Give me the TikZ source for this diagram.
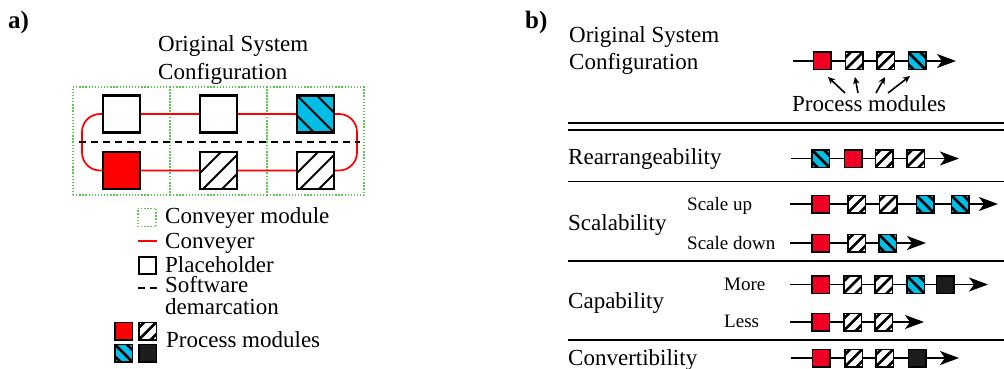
\documentclass[tikz,border=0pt]{standalone}
\usepackage{fontspec}
\setmainfont{Liberation Serif}
\usetikzlibrary{arrows.meta}
\definecolor{cred}{RGB}{255,0,0}
\definecolor{credb}{RGB}{240,0,35}
\definecolor{cblue}{RGB}{0,190,230}
\definecolor{cblk}{RGB}{28,28,26}
\definecolor{cgreen}{RGB}{90,200,80}
\tikzset{
  txt/.style={font=\fontsize{23}{26}\selectfont, inner sep=0pt, anchor=base west},
  stxt/.style={font=\fontsize{19}{22}\selectfont, inner sep=0pt, anchor=base west},
  lbl/.style={font=\fontsize{25}{27}\selectfont\bfseries, inner sep=0pt, anchor=base west},
  sq/.style={draw=black, line width=1.5pt, minimum size=17.5pt, inner sep=0pt, outer sep=0pt, fill=white},
  bsq/.style={draw=black, line width=2.2pt, minimum size=37pt, inner sep=0pt, outer sep=0pt, fill=white},
  stripesNE/.style n args={2}{path picture={\foreach \d in {#1}{\draw[line width=#2]
      ([shift={({\d/2-40},{\d/2+40})}]path picture bounding box.center) --
      ([shift={({\d/2+40},{\d/2-40})}]path picture bounding box.center);}}},
  stripesNW/.style n args={2}{path picture={\foreach \d in {#1}{\draw[line width=#2]
      ([shift={({\d/2-40},{-\d/2-40})}]path picture bounding box.center) --
      ([shift={({\d/2+40},{-\d/2+40})}]path picture bounding box.center);}}},
  rmod/.style={sq, fill=credb},
  hmod/.style={sq, stripesNE={-12,0,12}{2.8pt}},
  cmod/.style={sq, fill=cblue, stripesNW={-12,0,12}{2.8pt}},
  kmod/.style={sq, fill=cblk},
  cell/.style={draw=cgreen, line width=1.3pt, dash pattern=on 1.3pt off 1.8pt, inner sep=0pt, outer sep=0pt},
  conv/.style={draw=cred, line width=1.7pt},
  demarc/.style={draw=black, line width=1.6pt, dash pattern=on 7pt off 5pt},
  chain/.style={draw=black, line width=1.5pt},
  chainend/.style={chain, -{Stealth[length=19pt, width=14pt, inset=5pt]}},
  parrow/.style={draw=black, line width=1.6pt, -{Stealth[length=7pt, width=6.5pt, inset=2pt]}},
  sep/.style={draw=black, line width=1.8pt},
  dsep/.style={draw=black, line width=2.1pt}
}
\begin{document}
\begin{tikzpicture}[x=1pt,y=-1pt]
\useasboundingbox (0,0) rectangle (1004,369);
% ---------------- panel a ----------------
\node[lbl] (la) at (8,29) {a)};
\node[txt] (ta1) at (158,52) {Original System};
\node[txt] (ta2) at (158,79) {Configuration};
% conveyer modules
\node[cell, minimum width=97pt, minimum height=108pt] (c1) at (121.5,141) {};
\node[cell, minimum width=97pt, minimum height=108pt] (c2) at (218.5,141) {};
\node[cell, minimum width=97pt, minimum height=108pt] (c3) at (315.5,141) {};
% conveyer loop
\draw[conv, rounded corners=18pt] (82,114) rectangle (357,170.5);
% software demarcation
\coordinate (d1) at (79,142);
\coordinate (d2) at (360,142);
\draw[demarc] (d1) -- (d2);
% squares
\node[bsq] (a1) at (121.5,114) {};
\node[bsq] (a2) at (218.5,114) {};
\node[bsq, fill=cblue, stripesNW={-20,0,20}{2pt}] (a3) at (315.5,114) {};
\node[bsq, fill=cred] (a4) at (121.5,170.5) {};
\node[bsq, stripesNE={-16,3,22}{2pt}] (a5) at (218.5,170.5) {};
\node[bsq, stripesNE={-16,3,22}{2pt}] (a6) at (315.5,170.5) {};
% legend
\node[cell, minimum size=18pt] (lg1) at (147,217.5) {};
\node[txt] (lt1) at (165,223) {Conveyer module};
\coordinate (lr1) at (138,241);
\coordinate (lr2) at (157,241);
\draw[conv] (lr1) -- (lr2);
\node[txt] (lt2) at (165,248) {Conveyer};
\node[draw=black, line width=2pt, minimum size=17pt, inner sep=0pt] (lg3) at (147,265.5) {};
\node[txt] (lt3) at (165,272) {Placeholder};
\coordinate (ld1) at (138,288);
\coordinate (ld2) at (157,288);
\draw[demarc] (ld1) -- (ld2);
\node[txt] (lt4) at (165,292) {Software};
\node[txt] (lt5) at (165,314.5) {demarcation};
\node[sq, fill=cred] (pm1) at (123.5,331) {};
\node[hmod] (pm2) at (147.5,331) {};
\node[cmod] (pm3) at (123.5,353) {};
\node[kmod] (pm4) at (147.5,353) {};
\node[txt] (lt6) at (166,347) {Process modules};
% ---------------- panel b ----------------
\node[lbl] (lb) at (525,29) {b)};
\node[txt] (tb1) at (569,43) {Original System};
\node[txt] (tb2) at (569,70) {Configuration};
% original chain
\coordinate (o0) at (793,61);
\node[rmod] (o1) at (822,61) {};
\node[hmod] (o2) at (854,61) {};
\node[hmod] (o3) at (885.5,61) {};
\node[cmod] (o4) at (917,61) {};
\coordinate (o5) at (956,61);
\draw[chain] (o0) -- (o1) -- (o2) -- (o3) -- (o4);
\draw[chainend] (o4) -- (o5);
\node[txt] (pmb) at (792,111) {Process modules};
\coordinate (p1s) at (845,93); \coordinate (p1e) at (828,77);
\coordinate (p2s) at (858,93); \coordinate (p2e) at (855,77);
\coordinate (p3s) at (876,93); \coordinate (p3e) at (885,77);
\coordinate (p4s) at (888,93); \coordinate (p4e) at (910,76);
\draw[parrow] (p1s) -- (p1e);
\draw[parrow] (p2s) -- (p2e);
\draw[parrow] (p3s) -- (p3e);
\draw[parrow] (p4s) -- (p4e);
% separators
\coordinate (s1a) at (568,123); \coordinate (s1b) at (1004,123);
\coordinate (s2a) at (568,130); \coordinate (s2b) at (1004,130);
\coordinate (s3a) at (568,181.5); \coordinate (s3b) at (1004,181.5);
\coordinate (s4a) at (568,261); \coordinate (s4b) at (1004,261);
\coordinate (s5a) at (568,340); \coordinate (s5b) at (1004,340);
\draw[dsep] (s1a) -- (s1b);
\draw[dsep] (s2a) -- (s2b);
\draw[sep] (s3a) -- (s3b);
\draw[sep] (s4a) -- (s4b);
\draw[sep] (s5a) -- (s5b);
% rearrangeability
\node[txt] (tr) at (568,164) {Rearrangeability};
\coordinate (r0) at (791,158.5);
\node[cmod] (r1) at (820.5,158.5) {};
\node[rmod] (r2) at (853,158.5) {};
\node[hmod] (r3) at (884,158.5) {};
\node[hmod] (r4) at (915.5,158.5) {};
\coordinate (r5) at (959,158.5);
\draw[chain] (r0) -- (r1) -- (r2) -- (r3) -- (r4);
\draw[chainend] (r4) -- (r5);
% scalability
\node[txt] (ts) at (568,230) {Scalability};
\node[stxt] (tsu) at (687,210) {Scale up};
\node[stxt] (tsd) at (687,249) {Scale down};
\coordinate (u0) at (790,204);
\node[rmod] (u1) at (820.5,204) {};
\node[hmod] (u2) at (856.5,204) {};
\node[hmod] (u3) at (888,204) {};
\node[cmod] (u4) at (925,204) {};
\node[cmod] (u5) at (960,204) {};
\coordinate (u6) at (998,204);
\draw[chain] (u0) -- (u1) -- (u2) -- (u3) -- (u4) -- (u5);
\draw[chainend] (u5) -- (u6);
\coordinate (w0) at (790,243);
\node[rmod] (w1) at (820.5,243) {};
\node[hmod] (w2) at (856.5,243) {};
\node[cmod] (w3) at (887.5,243) {};
\coordinate (w4) at (926,243);
\draw[chain] (w0) -- (w1) -- (w2) -- (w3);
\draw[chainend] (w3) -- (w4);
% capability
\node[txt] (tc) at (568,308) {Capability};
\node[stxt] (tcm) at (724,290) {More};
\node[stxt] (tcl) at (724,327) {Less};
\coordinate (m0) at (790,284.5);
\node[rmod] (m1) at (820.5,284.5) {};
\node[hmod] (m2) at (852.5,284.5) {};
\node[hmod] (m3) at (883.5,284.5) {};
\node[cmod] (m4) at (915.5,284.5) {};
\node[kmod] (m5) at (945,284.5) {};
\coordinate (m6) at (988,284.5);
\draw[chain] (m0) -- (m1) -- (m2) -- (m3) -- (m4) -- (m5);
\draw[chainend] (m5) -- (m6);
\coordinate (e0) at (790,322);
\node[rmod] (e1) at (820.5,322) {};
\node[hmod] (e2) at (852.5,322) {};
\node[hmod] (e3) at (883.5,322) {};
\coordinate (e4) at (924,322);
\draw[chain] (e0) -- (e1) -- (e2) -- (e3);
\draw[chainend] (e3) -- (e4);
% convertibility
\node[txt] (tv) at (568,365) {Convertibility};
\coordinate (v0) at (791,358);
\node[rmod] (v1) at (821,358) {};
\node[hmod] (v2) at (853.5,358) {};
\node[hmod] (v3) at (884.5,358) {};
\node[kmod] (v4) at (917,358) {};
\coordinate (v5) at (959,358);
\draw[chain] (v0) -- (v1) -- (v2) -- (v3) -- (v4);
\draw[chainend] (v4) -- (v5);
\end{tikzpicture}
\end{document}
